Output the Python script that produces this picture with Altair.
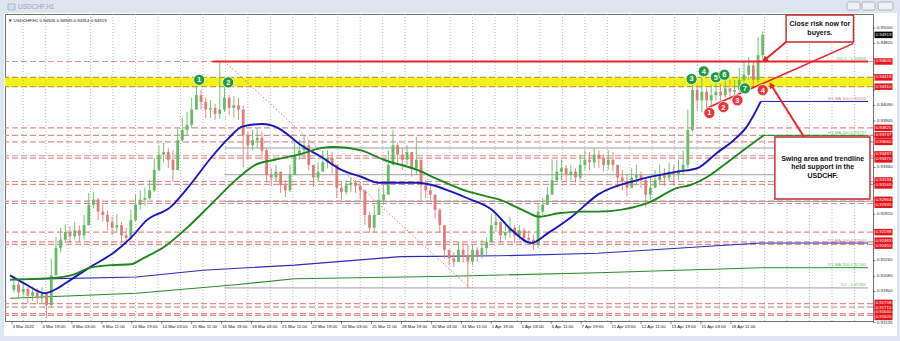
import altair as alt
import pandas as pd

# ---------------- data ----------------
# one drawn candle = 5 hourly bars; candle i sits at bar 5*i + 2
bar_step = 5
first_open = 0.9192
closes = [0.9198, 0.9189, 0.9193, 0.9185, 0.9189, 0.9182, 0.9187, 0.9174, 0.9209, 0.9241,
          0.9251, 0.9260, 0.9255, 0.9262, 0.9256, 0.9268, 0.9292, 0.9298, 0.9284, 0.9280,
          0.9272, 0.9265, 0.9268, 0.9256, 0.9253, 0.9274, 0.9292, 0.9298, 0.9300, 0.9309,
          0.9333, 0.9351, 0.9354, 0.9345, 0.9333, 0.9368, 0.9380, 0.9386, 0.9404, 0.9421,
          0.9413, 0.9404, 0.9406, 0.9399, 0.9404, 0.9418, 0.9406, 0.9409, 0.9404, 0.9374,
          0.9362, 0.9368, 0.9371, 0.9356, 0.9327, 0.9324, 0.9331, 0.9315, 0.9309, 0.9327,
          0.9351, 0.9356, 0.9362, 0.9339, 0.9324, 0.9331, 0.9342, 0.9347, 0.9339, 0.9312,
          0.9307, 0.9315, 0.9318, 0.9314, 0.9309, 0.9280, 0.9265, 0.9280, 0.9298, 0.9304,
          0.9339, 0.9362, 0.9351, 0.9345, 0.9354, 0.9335, 0.9345, 0.9315, 0.9309, 0.9304,
          0.9286, 0.9268, 0.9239, 0.9229, 0.9225, 0.9239, 0.9233, 0.9225, 0.9239, 0.9233,
          0.9241, 0.9248, 0.9268, 0.9272, 0.9256, 0.9260, 0.9265, 0.9256, 0.9262, 0.9253,
          0.9251, 0.9245, 0.9284, 0.9292, 0.9304, 0.9321, 0.9331, 0.9335, 0.9327, 0.9331,
          0.9324, 0.9339, 0.9345, 0.9342, 0.9351, 0.9347, 0.9339, 0.9345, 0.9339, 0.9324,
          0.9319, 0.9312, 0.9324, 0.9327, 0.9321, 0.9304, 0.9312, 0.9321, 0.9327, 0.9324,
          0.9331, 0.9327, 0.9333, 0.9339, 0.9380, 0.9427, 0.9415, 0.9425, 0.9415, 0.9421,
          0.9425, 0.9421, 0.9429, 0.9425, 0.9427, 0.9439, 0.9445, 0.9456, 0.9439, 0.9468,
          0.9492]
highs = [0.9208, 0.9201, 0.9200, 0.9195, 0.9196, 0.9194, 0.9195, 0.9189, 0.9229, 0.9254,
         0.9265, 0.9269, 0.9267, 0.9272, 0.9268, 0.9280, 0.9306, 0.9307, 0.9300, 0.9292,
         0.9286, 0.9278, 0.9281, 0.9272, 0.9265, 0.9286, 0.9304, 0.9309, 0.9312, 0.9321,
         0.9347, 0.9362, 0.9365, 0.9359, 0.9356, 0.9382, 0.9394, 0.9401, 0.9418, 0.9432,
         0.9427, 0.9418, 0.9415, 0.9411, 0.9460, 0.9434, 0.9421, 0.9420, 0.9418, 0.9409,
         0.9378, 0.9380, 0.9382, 0.9378, 0.9359, 0.9335, 0.9339, 0.9331, 0.9321, 0.9339,
         0.9365, 0.9368, 0.9374, 0.9368, 0.9339, 0.9342, 0.9356, 0.9356, 0.9354, 0.9333,
         0.9319, 0.9321, 0.9324, 0.9321, 0.9319, 0.9304, 0.9284, 0.9292, 0.9312, 0.9315,
         0.9356, 0.9380, 0.9365, 0.9359, 0.9362, 0.9351, 0.9372, 0.9345, 0.9321, 0.9315,
         0.9304, 0.9288, 0.9268, 0.9239, 0.9236, 0.9248, 0.9247, 0.9245, 0.9245, 0.9242,
         0.9251, 0.9253, 0.9282, 0.9282, 0.9268, 0.9268, 0.9278, 0.9268, 0.9268, 0.9265,
         0.9262, 0.9256, 0.9294, 0.9300, 0.9313, 0.9345, 0.9345, 0.9345, 0.9339, 0.9339,
         0.9335, 0.9351, 0.9356, 0.9354, 0.9359, 0.9356, 0.9351, 0.9356, 0.9354, 0.9339,
         0.9333, 0.9327, 0.9335, 0.9339, 0.9331, 0.9324, 0.9324, 0.9333, 0.9339, 0.9335,
         0.9342, 0.9339, 0.9345, 0.9356, 0.9404, 0.9441, 0.9433, 0.9442, 0.9429, 0.9433,
         0.9436, 0.9434, 0.9441, 0.9439, 0.9439, 0.9453, 0.9460, 0.9466, 0.9462, 0.9489,
         0.9496]
lows = [0.9189, 0.9182, 0.9185, 0.9176, 0.9179, 0.9175, 0.9176, 0.9159, 0.9171, 0.9209,
        0.9236, 0.9247, 0.9247, 0.9251, 0.9248, 0.9251, 0.9268, 0.9288, 0.9274, 0.9272,
        0.9262, 0.9256, 0.9259, 0.9247, 0.9245, 0.9251, 0.9272, 0.9286, 0.9291, 0.9298,
        0.9307, 0.9331, 0.9342, 0.9335, 0.9319, 0.9339, 0.9366, 0.9374, 0.9382, 0.9406,
        0.9404, 0.9394, 0.9394, 0.9392, 0.9393, 0.9401, 0.9398, 0.9395, 0.9392, 0.9336,
        0.9345, 0.9356, 0.9359, 0.9345, 0.9318, 0.9314, 0.9319, 0.9306, 0.9301, 0.9307,
        0.9333, 0.9345, 0.9347, 0.9333, 0.9313, 0.9319, 0.9331, 0.9335, 0.9329, 0.9300,
        0.9298, 0.9304, 0.9307, 0.9306, 0.9298, 0.9268, 0.9259, 0.9259, 0.9286, 0.9292,
        0.9304, 0.9345, 0.9339, 0.9333, 0.9339, 0.9325, 0.9327, 0.9298, 0.9300, 0.9298,
        0.9276, 0.9259, 0.9229, 0.9221, 0.9219, 0.9225, 0.9224, 0.9194, 0.9221, 0.9225,
        0.9229, 0.9233, 0.9248, 0.9260, 0.9247, 0.9251, 0.9253, 0.9247, 0.9251, 0.9247,
        0.9245, 0.9239, 0.9241, 0.9280, 0.9292, 0.9304, 0.9319, 0.9321, 0.9318, 0.9321,
        0.9318, 0.9321, 0.9333, 0.9333, 0.9335, 0.9335, 0.9331, 0.9333, 0.9331, 0.9312,
        0.9309, 0.9302, 0.9312, 0.9315, 0.9312, 0.9289, 0.9298, 0.9312, 0.9315, 0.9314,
        0.9319, 0.9315, 0.9321, 0.9327, 0.9335, 0.9378, 0.9404, 0.9401, 0.9406, 0.9409,
        0.9415, 0.9413, 0.9418, 0.9415, 0.9418, 0.9424, 0.9429, 0.9439, 0.9429, 0.9436,
        0.9462]

date_labels = ["3 Mar 2022", "4 Mar 19:00", "8 Mar 03:00", "9 Mar 11:00", "10 Mar 19:00",
               "14 Mar 03:00", "15 Mar 11:00", "16 Mar 19:00", "18 Mar 03:00", "21 Mar 11:00",
               "22 Mar 19:00", "24 Mar 03:00", "25 Mar 11:00", "28 Mar 19:00", "30 Mar 03:00",
               "31 Mar 11:00", "1 Apr 19:00", "5 Apr 03:00", "6 Apr 11:00", "7 Apr 19:00",
               "11 Apr 03:00", "12 Apr 11:00", "13 Apr 19:00", "15 Apr 03:00", "18 Apr 11:00"]
date_every = 32
grid_bars = list(range(12, 915, 24))

y_ticks = [0.95000, 0.94820, 0.94635, 0.94455, 0.94270, 0.94090, 0.93905, 0.93725, 0.93540,
           0.93360, 0.93175, 0.92995, 0.92810, 0.92630, 0.92445, 0.92265, 0.92080, 0.91900,
           0.91715, 0.91535]

dash_levels = [0.94606, 0.93825, 0.93737, 0.93660, 0.93497, 0.93470, 0.93194, 0.93160,
               0.92964, 0.92935, 0.92598, 0.92483, 0.92455, 0.91758, 0.91715, 0.91640, 0.91620]
zone_low, zone_high = 0.94310, 0.94419
last_price = 0.94919

swing_high, swing_bar = 0.94606, 214
fib_bar0, fib_bar1 = 227, 489
fib_high, fib_low = 0.94606, 0.91942
fib_levels = [0.94606, 0.93588, 0.93274, 0.92960, 0.91942]

ma100_bar = [-2, 14, 35, 49, 63, 84, 109, 127, 144, 169, 190, 211, 232, 246, 267, 285, 302, 309,
             331, 352, 373, 391, 415, 433, 450, 468, 486, 513, 534, 555, 573, 598, 626, 668,
             711, 732, 753, 771, 785, 800]
ma100_val = [0.9209, 0.9199, 0.9188, 0.9194, 0.9204, 0.9219, 0.9236, 0.9253, 0.9274, 0.9289,
             0.9315, 0.9345, 0.9371, 0.9384, 0.9387, 0.9382, 0.9368, 0.9362, 0.9348, 0.9333,
             0.9325, 0.9318, 0.9318, 0.9318, 0.9315, 0.9308, 0.9300, 0.9286, 0.9262, 0.9247,
             0.9259, 0.9278, 0.9304, 0.9321, 0.9331, 0.9335, 0.9353, 0.9368, 0.9384, 0.94136]
ma200_bar = [-2, 45, 63, 84, 106, 127, 140, 162, 190, 214, 239, 260, 281, 309, 331, 344, 373,
             397, 433, 457, 486, 507, 521, 549, 563, 584, 608, 626, 679, 711, 724, 746, 763,
             781, 803]
ma200_val = [0.9204, 0.9206, 0.9209, 0.9218, 0.9221, 0.9222, 0.9229, 0.9242, 0.9268, 0.9294,
             0.9321, 0.9339, 0.9345, 0.9352, 0.9359, 0.9360, 0.9356, 0.9345, 0.9333, 0.9321,
             0.9308, 0.9302, 0.9298, 0.9284, 0.9278, 0.9282, 0.9284, 0.9284, 0.9294, 0.9312,
             0.9315, 0.9327, 0.9341, 0.9356, 0.93737]
d1a_bar = [-2, 133, 204, 302, 415, 521, 626, 800]
d1a_val = [0.9204, 0.9207, 0.9215, 0.9221, 0.9231, 0.9232, 0.9235, 0.9247]
d1b_bar = [-2, 133, 239, 302, 468, 626, 800]
d1b_val = [0.9182, 0.9188, 0.9198, 0.9205, 0.9208, 0.9212, 0.9218]

line_labels = ["100.0 - 0.94606", "H1 MA 100:0.94136", "H1 MA 200:0.93737", "38.2 - 0.92960",
               "D1 MA 100:0.92470", "D1 MA 200:0.92180", "0.0 - 0.91942"]
line_label_val = [0.94606, 0.94136, 0.93737, 0.92960, 0.92470, 0.92180, 0.91942]
line_label_kind = ["fib", "blue", "green", "fib", "blue", "green", "fib"]

circle_bar = [200, 231, 726, 739, 752, 761, 783, 745, 760, 775, 802]
circle_val = [0.9439, 0.9436, 0.9440, 0.9449, 0.9442, 0.9445, 0.9429, 0.9400, 0.9407, 0.9415, 0.9427]
circle_txt = ["1", "2", "3", "4", "5", "6", "7", "1", "2", "3", "4"]
circle_kind = ["g"] * 7 + ["r"] * 4

trend_bar = [742, 899]
trend_val = [0.94055, 0.94819]
arrow_from_bar = [827, 846]
arrow_from_val = [0.94835, 0.93720]
arrow_to_bar = [804, 811]
arrow_to_val = [0.94624, 0.94330]
arrow_angle = [231, 328]

box_bar0 = [827, 815]
box_bar1 = [899, 916.6]
box_val0 = [0.94835, 0.92988]
box_val1 = [0.95153, 0.93718]
note_lines = ["Close risk now for", "buyers.", "Swing area and trendline", "held support in the", "USDCHF."]
note_bar = [863, 863, 866, 866, 866]
note_val = [0.95047, 0.94941, 0.93459, 0.93365, 0.93259]

# ---------------- scales ----------------
W, H = 868, 307
YMIN, YMAX = 0.915529, 0.951647
XMIN, XMAX = -2.11, 914.47
PX_PER_UNIT = H / (YMAX - YMIN)
xs = alt.Scale(domain=[XMIN, XMAX], nice=False, zero=False)
ys = alt.Scale(domain=[YMIN, YMAX], nice=False, zero=False)
FONT = "Liberation Sans"
AXFS = 4.3

def X(f="bar"):
    return alt.X(f"{f}:Q", scale=xs, axis=None)

def Y(f="val"):
    return alt.Y(f"{f}:Q", scale=ys, axis=None)

one = alt.Data(values=[{}])

# ---------------- candles ----------------
rows = []
prev = first_open
for i, (c, h, l) in enumerate(zip(closes, highs, lows)):
    o = prev
    rows.append({"bar": bar_step * i + 2, "o": o, "c": c,
                 "h": max(h, o, c), "l": min(l, o, c),
                 "dir": "up" if c >= o else "down"})
    prev = c
cdf = pd.DataFrame(rows)
ccol = alt.Color("dir:N", scale=alt.Scale(domain=["up", "down"], range=["#66bb66", "#dc7f78"]), legend=None)

wicks = alt.Chart(cdf).mark_rule(strokeWidth=0.9).encode(x=X(), y=Y("l"), y2="h:Q", color=ccol)
bodies = alt.Chart(cdf).mark_bar(size=2.8).encode(x=X(), y=Y("o"), y2="c:Q", color=ccol)

# ---------------- price tags (right scale) ----------------
tag_vals = sorted(dash_levels + [zone_high, zone_low], reverse=True)
tag_pos = list(tag_vals)
for k in range(len(tag_vals) - 1):
    gap = (tag_vals[k] - tag_vals[k + 1]) * PX_PER_UNIT
    if gap < 5:
        push = (5 - gap) / 2 / PX_PER_UNIT
        tag_pos[k] += push
        tag_pos[k + 1] -= push
covered = tag_pos + [last_price]

# ---------------- scales drawn as MT4-style axes ----------------
# plain price labels hidden under a tag are left out (the tag covers them, as in MT4)
shown_ticks = [v for v in y_ticks if min(abs(v - t) for t in covered) * PX_PER_UNIT >= 5.5]
ytick_df = pd.DataFrame({"val": y_ticks})
ytick_marks = alt.Chart(ytick_df).mark_tick(orient="horizontal", size=2.5, thickness=0.8, color="#333").encode(
    x=alt.value(W + 1.25), y=Y())
ylab_df = pd.DataFrame({"val": shown_ticks, "txt": ["%.5f" % v for v in shown_ticks]})
ytick_text = alt.Chart(ylab_df).mark_text(align="left", baseline="middle", fontSize=AXFS, font=FONT, color="#222").encode(
    x=alt.value(W + 4), y=Y(), text="txt:N")
date_df = pd.DataFrame({"bar": [date_every * k for k in range(len(date_labels))], "txt": date_labels})
date_ticks = alt.Chart(date_df).mark_tick(orient="vertical", size=3, thickness=0.8, color="#333").encode(
    x=X(), y=alt.value(H + 1.5))
date_text = alt.Chart(date_df).mark_text(align="left", baseline="top", dx=0.5, fontSize=AXFS, font=FONT, color="#111").encode(
    x=X(), y=alt.value(H + 4.2), text="txt:N")

# ---------------- chart furniture ----------------
grid = alt.Chart(pd.DataFrame({"bar": grid_bars})).mark_rule(
    color="#a8a8a8", strokeWidth=0.8, strokeDash=[1, 2]).encode(x=X())

zone = alt.Chart(pd.DataFrame({"a": [zone_low], "b": [zone_high]})).mark_rect(
    color="#f2f21c").encode(y=Y("a"), y2="b:Q")
zone_edges = alt.Chart(pd.DataFrame({"val": [zone_low, zone_high]})).mark_rule(
    color="#c89a38", strokeWidth=1.2, strokeDash=[6, 3]).encode(y=Y())

dashes = alt.Chart(pd.DataFrame({"val": dash_levels})).mark_rule(
    color="#de8e8e", strokeWidth=1.2, strokeDash=[6, 3]).encode(y=Y())

fib_df = pd.DataFrame({"bar": [fib_bar0] * len(fib_levels), "bar2": [XMAX] * len(fib_levels), "val": fib_levels})
fib_lines = alt.Chart(fib_df).mark_rule(color="#9c9c9c", strokeWidth=1).encode(x=X(), x2="bar2:Q", y=Y())
fib_diag = alt.Chart(pd.DataFrame({"bar": [fib_bar0], "bar2": [fib_bar1], "val": [fib_high], "val2": [fib_low]})).mark_rule(
    color="#e07c7c", strokeWidth=1, strokeDash=[1.5, 2]).encode(x=X(), x2="bar2:Q", y=Y(), y2="val2:Q")

swing = alt.Chart(pd.DataFrame({"bar": [swing_bar], "bar2": [XMAX], "val": [swing_high]})).mark_rule(
    color="#e8242a", strokeWidth=2).encode(x=X(), x2="bar2:Q", y=Y())

def ma_line(bars, vals, color, width, interp):
    d = pd.DataFrame({"bar": bars, "val": vals})
    line = alt.Chart(d).mark_line(color=color, strokeWidth=width, interpolate=interp).encode(x=X(), y=Y())
    ext = alt.Chart(pd.DataFrame({"bar": [bars[-1]], "bar2": [XMAX], "val": [vals[-1]]})).mark_rule(
        color=color, strokeWidth=1).encode(x=X(), x2="bar2:Q", y=Y())
    return line + ext

d1a = ma_line(d1a_bar, d1a_val, "#2b2bb0", 1.1, "linear")
d1b = ma_line(d1b_bar, d1b_val, "#2a8a2a", 1.1, "linear")
ma100 = ma_line(ma100_bar, ma100_val, "#1717b8", 1.9, "monotone")
ma200 = ma_line(ma200_bar, ma200_val, "#1b861b", 1.9, "monotone")

ll_df = pd.DataFrame({"txt": line_labels, "val": line_label_val, "kind": line_label_kind, "bar": [912.4] * 7})
line_text = alt.Chart(ll_df).mark_text(align="right", baseline="bottom", dy=-0.5, fontSize=AXFS, font=FONT).encode(
    x=X(), y=Y(), text="txt:N",
    color=alt.Color("kind:N", scale=alt.Scale(domain=["fib", "blue", "green"],
                                              range=["#555555", "#2020c0", "#208020"]), legend=None))

trend = alt.Chart(pd.DataFrame({"bar": [trend_bar[0]], "bar2": [trend_bar[1]], "val": [trend_val[0]], "val2": [trend_val[1]]})).mark_rule(
    color="#e3262c", strokeWidth=1.6).encode(x=X(), x2="bar2:Q", y=Y(), y2="val2:Q")
arr_df = pd.DataFrame({"bar": arrow_from_bar, "val": arrow_from_val, "bar2": arrow_to_bar,
                       "val2": arrow_to_val, "ang": arrow_angle})
arrows = alt.Chart(arr_df).mark_rule(color="#e3262c", strokeWidth=2).encode(x=X(), x2="bar2:Q", y=Y(), y2="val2:Q")
heads = alt.Chart(arr_df).mark_point(shape="triangle-up", filled=True, size=45, color="#e3262c", opacity=1).encode(
    x=X("bar2"), y=Y("val2"), angle=alt.Angle("ang:Q", scale=None))

cdf2 = pd.DataFrame({"bar": circle_bar, "val": circle_val, "txt": circle_txt, "kind": circle_kind})
circles = alt.Chart(cdf2).mark_point(filled=True, size=125, opacity=1, stroke="white", strokeWidth=0.8).encode(
    x=X(), y=Y(), fill=alt.Fill("kind:N", scale=alt.Scale(domain=["g", "r"], range=["#1f9a3e", "#e8353a"]), legend=None))
circle_nums = alt.Chart(cdf2).mark_text(color="white", fontWeight="bold", fontSize=7.5, font=FONT, baseline="middle", dy=0.5).encode(
    x=X(), y=Y(), text="txt:N")

box_df = pd.DataFrame({"bar": box_bar0, "bar2": box_bar1, "val": box_val0, "val2": box_val1})
boxes = alt.Chart(box_df).mark_rect(fill="white", stroke="#c4262c", strokeWidth=1.4).encode(
    x=X(), x2="bar2:Q", y=Y(), y2="val2:Q")
notes = alt.Chart(pd.DataFrame({"bar": note_bar, "val": note_val, "txt": note_lines})).mark_text(
    fontWeight="bold", fontSize=7.0, font=FONT, color="#111", baseline="middle").encode(x=X(), y=Y(), text="txt:N")

tags_df = pd.DataFrame({"val": tag_pos, "txt": ["%.5f" % v for v in tag_vals]})
TAGX = W + 10.5
tag_boxes = alt.Chart(tags_df).mark_tick(orient="horizontal", size=18, thickness=6.5, color="#e3161c", opacity=1).encode(
    x=alt.value(TAGX), y=Y())
tag_text = alt.Chart(tags_df).mark_text(color="white", fontSize=AXFS, font=FONT, baseline="middle").encode(
    x=alt.value(TAGX), y=Y(), text="txt:N")
last_df = pd.DataFrame({"val": [last_price], "txt": ["%.5f" % last_price]})
last_box = alt.Chart(last_df).mark_tick(orient="horizontal", size=18, thickness=6.5, color="#000000", opacity=1).encode(
    x=alt.value(TAGX), y=Y())
last_text = alt.Chart(last_df).mark_text(color="white", fontSize=AXFS, font=FONT, baseline="middle").encode(
    x=alt.value(TAGX), y=Y(), text="txt:N")

info = alt.Chart(one).mark_text(text="\u25bc USDCHF,H1  0.94926 0.94945 0.94914 0.94919", align="left",
                                baseline="middle", fontSize=4.4, font=FONT, color="#111").encode(
    x=alt.value(3), y=alt.value(7))

# window frame
PX = alt.X("x:Q", scale=None, axis=None)
PY = alt.Y("y:Q", scale=None, axis=None)
frame_rects = alt.Chart(alt.Data(values=[
    {"x": -5, "x2": 895, "y": -14, "y2": -1},
    {"x": -5, "x2": -1, "y": -1, "y2": 327},
    {"x": 892, "x2": 895, "y": -1, "y2": 327},
    {"x": -5, "x2": 895, "y": 322, "y2": 327},
])).mark_rect(color="#dde5ee").encode(x=PX, x2="x2:Q", y=PY, y2="y2:Q")
buttons = alt.Chart(alt.Data(values=[
    {"x": 842, "x2": 855, "y": -12, "y2": -4},
    {"x": 857, "x2": 870, "y": -12, "y2": -4},
    {"x": 873, "x2": 888, "y": -12, "y2": -4},
])).mark_rect(fill="#eef2f7", stroke="#9aa6b4", strokeWidth=0.8, cornerRadius=1.5).encode(
    x=PX, x2="x2:Q", y=PY, y2="y2:Q")
title_txt = alt.Chart(one).mark_text(text="USDCHF,H1", align="left", baseline="middle", fontSize=6.5,
                                     font=FONT, color="#9aa7b6").encode(x=alt.value(13), y=alt.value(-7))
title_icon = alt.Chart(one).mark_rect(fill="#cfe0f0", stroke="#8fa5bd", strokeWidth=0.7).encode(
    x=alt.value(3), x2=alt.value(10), y=alt.value(-10), y2=alt.value(-4))

chart = alt.layer(
    zone, grid, zone_edges, dashes, fib_lines, fib_diag, d1a, d1b,
    bodies, wicks, ma100, ma200, swing, trend, arrows, heads, circles, circle_nums,
    line_text, boxes, notes,
    ytick_marks, ytick_text, date_ticks, date_text,
    tag_boxes, tag_text, last_box, last_text, info,
    frame_rects, buttons, title_icon, title_txt,
).properties(
    width=W, height=H,
    autosize=alt.AutoSizeParams(type="none"),
    padding={"left": 5, "top": 14, "right": 27, "bottom": 20},
    background="white",
).configure_view(stroke="#6e6e6e", strokeWidth=1, fill="white")

chart.save("out.html", embed_options={"renderer": "svg", "actions": False})
